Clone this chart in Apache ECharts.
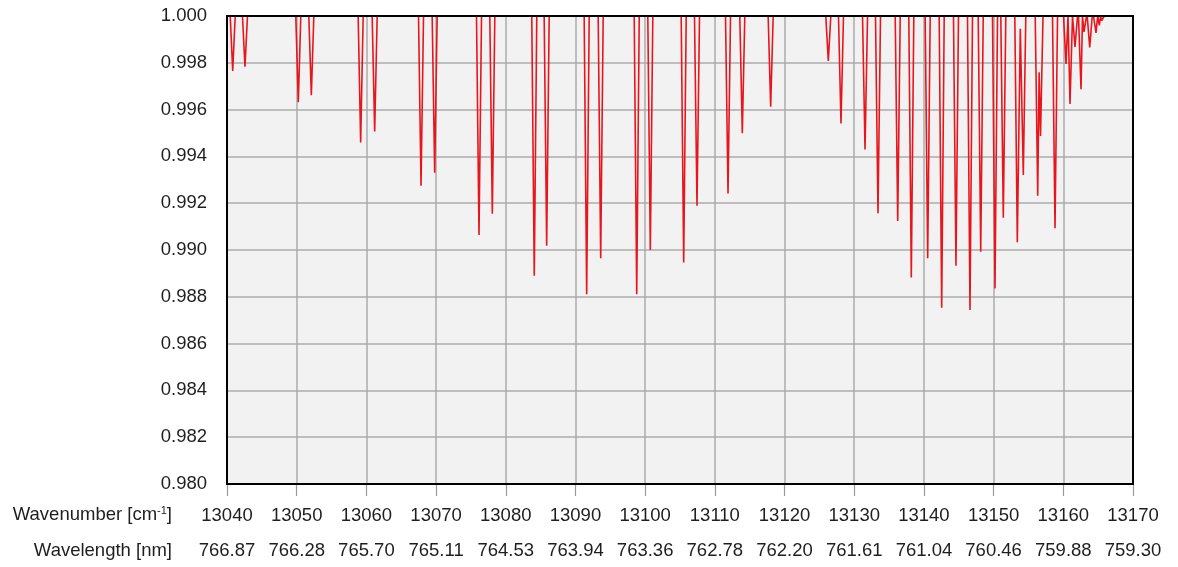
<!DOCTYPE html>
<html>
<head>
<meta charset="utf-8">
<script src="https://cdn.jsdelivr.net/npm/echarts@6/dist/echarts.min.js"></script>
<style>
  html, body { margin: 0; padding: 0; background: #ffffff; }
  #chart { width: 1178px; height: 567px; }
</style>
</head>
<body>
<div id="chart"></div>
<script>
// ---- data ----
const wavenumberMin = 13040;
const wavenumberMax = 13170;
const wavenumberStep = 10;
const wavelengthLabels = ['766.87','766.28','765.70','765.11','764.53','763.94','763.36',
  '762.78','762.20','761.61','761.04','760.46','759.88','759.30'];
const transmittanceMin = 0.980;
const transmittanceMax = 1.000;
const transmittanceStep = 0.002;

// absorption line centres (cm^-1) and the transmittance at each line's minimum
const lineCenters = [
  13040.82, 13042.58, 13050.23, 13052.10, 13059.18, 13061.19, 13067.84, 13069.80,
  13076.16, 13078.07, 13084.09, 13085.87, 13091.61, 13093.62, 13098.79, 13100.74,
  13105.53, 13107.44, 13111.89, 13113.94, 13118.01, 13126.28, 13128.10, 13131.55,
  13133.41, 13136.24, 13138.19, 13140.54, 13142.55, 13144.60, 13146.61, 13148.15,
  13150.20, 13151.39, 13153.40, 13154.26, 13156.33, 13156.73, 13158.81, 13160.39,
  13160.96, 13161.68, 13162.54, 13162.97, 13163.79, 13164.69, 13165.17, 13165.51
];
const lineMinima = [
  0.99765, 0.99783, 0.99631, 0.99661, 0.99460, 0.99507, 0.99275, 0.99330,
  0.99064, 0.99155, 0.98890, 0.99018, 0.98811, 0.98965, 0.98811, 0.99000,
  0.98947, 0.99189, 0.99241, 0.99499, 0.99612, 0.99808, 0.99541, 0.99430,
  0.99157, 0.99124, 0.98882, 0.98965, 0.98753, 0.98933, 0.98744, 0.98993,
  0.98836, 0.99138, 0.99033, 0.99321, 0.99232, 0.99487, 0.99093, 0.99795,
  0.99624, 0.99868, 0.99687, 0.99932, 0.99866, 0.99928, 0.99960, 0.99980
];
// maxima between blended lines that do not come back up to 1.000
const partialRidges = [
  [13153.83, 0.99945],
  [13156.53, 0.99760]
];

// ---- build the trace (each line drawn as a narrow dip from the 1.000 level) ----
const HALF = 0.36;
const trace = [];
for (let i = 0; i < lineCenters.length; i++) {
  const c = lineCenters[i];
  if (i === 0) trace.push([c - HALF, 1]);
  trace.push([c, lineMinima[i]]);
  if (i === lineCenters.length - 1) { trace.push([c + HALF, 1]); break; }
  const c2 = lineCenters[i + 1];
  const ridge = partialRidges.find(r => r[0] > c && r[0] < c2);
  if (ridge) {
    trace.push(ridge);
  } else if (c2 - c < 2 * HALF) {
    trace.push([(c + c2) / 2, 1]);
  } else {
    trace.push([c + HALF, 1]);
    trace.push([(c + c2) / 2, '-']);
    trace.push([c2 - HALF, 1]);
  }
}

const FONT = 'Liberation Sans, Arial, sans-serif';
const FS = 18.5;
const TXT = '#1e1e1e';
const GL = 227, GT = 16, GW = 906, GH = 468;

const chart = echarts.init(document.getElementById('chart'), null, { renderer: 'canvas' });
chart.setOption({
  animation: false,
  backgroundColor: '#ffffff',
  grid: {
    left: GL, right: 1178 - GL - GW, top: GT, bottom: 567 - GT - GH,
    show: true, backgroundColor: '#f2f2f2', borderColor: '#000000', borderWidth: 0
  },
  xAxis: [
    {
      type: 'value', position: 'bottom',
      min: wavenumberMin, max: wavenumberMax, interval: wavenumberStep,
      axisLine: { show: false },
      axisTick: { show: true, length: 12, lineStyle: { color: '#9a9a9a', width: 1.2 } },
      splitLine: { show: true, lineStyle: { color: '#ababab', width: 1.5 } },
      axisLabel: { margin: 22, fontFamily: FONT, fontSize: FS, color: TXT,
        formatter: v => String(Math.round(v)) }
    },
    {
      type: 'value', position: 'bottom',
      min: wavenumberMin, max: wavenumberMax, interval: wavenumberStep,
      axisLine: { show: false }, axisTick: { show: false }, splitLine: { show: false },
      axisLabel: { margin: 57, fontFamily: FONT, fontSize: FS, color: TXT,
        formatter: v => wavelengthLabels[Math.round((v - wavenumberMin) / wavenumberStep)] || '' }
    }
  ],
  yAxis: {
    type: 'value', min: transmittanceMin, max: transmittanceMax, interval: transmittanceStep,
    axisLine: { show: false }, axisTick: { show: false },
    splitLine: { show: true, lineStyle: { color: '#ababab', width: 1.5 } },
    axisLabel: { margin: 20, fontFamily: FONT, fontSize: FS, color: TXT,
      formatter: v => v.toFixed(3) }
  },
  graphic: [
    {
      type: 'rect', z: 100, silent: true,
      shape: { x: GL, y: GT, width: GW, height: GH },
      style: { fill: 'none', stroke: '#000000', lineWidth: 2 }
    },
    {
      type: 'text', right: 1178 - 172, top: 505,
      style: {
        text: '{a|Wavenumber [cm}{s|-1}{a|]}',
        rich: {
          a: { fontFamily: FONT, fontSize: FS, fill: TXT, verticalAlign: 'bottom' },
          s: { fontFamily: FONT, fontSize: 11, fill: TXT, verticalAlign: 'top' }
        }
      }
    },
    {
      type: 'text', right: 1178 - 172, top: 541,
      style: { text: 'Wavelength [nm]', fontFamily: FONT, fontSize: FS, fill: TXT }
    }
  ],
  series: [{
    type: 'line', xAxisIndex: 0, data: trace, showSymbol: false, smooth: false,
    connectNulls: false, clip: true,
    lineStyle: { color: '#e8151d', width: 1.6 }
  }]
});
</script>
</body>
</html>
